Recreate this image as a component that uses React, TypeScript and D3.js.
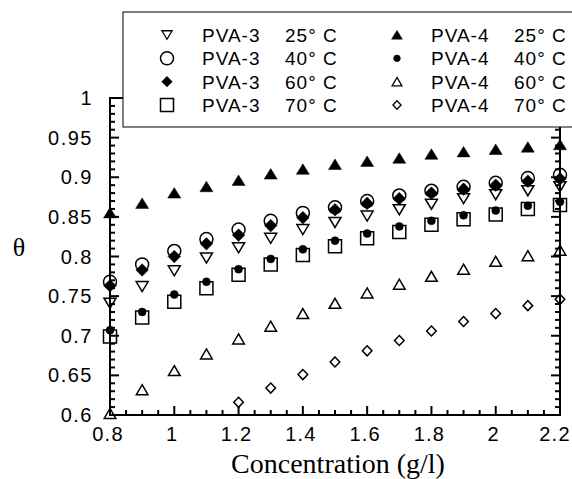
import React, { useEffect, useRef } from 'react';
import * as d3 from 'd3';

const conc = [0.8, 0.9, 1.0, 1.1, 1.2, 1.3, 1.4, 1.5, 1.6, 1.7, 1.8, 1.9, 2.0, 2.1, 2.2];

const pva3_25 = [0.741, 0.762, 0.782, 0.798, 0.811, 0.823, 0.834, 0.843, 0.851, 0.859, 0.866, 0.873, 0.878, 0.883, 0.888];
const pva3_40 = [0.768, 0.790, 0.807, 0.822, 0.834, 0.845, 0.855, 0.862, 0.870, 0.877, 0.883, 0.888, 0.893, 0.899, 0.903];
const pva3_60 = [0.763, 0.783, 0.800, 0.816, 0.827, 0.839, 0.849, 0.859, 0.867, 0.873, 0.880, 0.885, 0.890, 0.895, 0.898];
const pva3_70 = [0.699, 0.723, 0.743, 0.760, 0.777, 0.790, 0.802, 0.813, 0.823, 0.831, 0.840, 0.847, 0.853, 0.860, 0.865];
const pva4_25 = [0.855, 0.867, 0.880, 0.888, 0.896, 0.904, 0.910, 0.916, 0.920, 0.924, 0.929, 0.932, 0.935, 0.938, 0.941];
const pva4_40 = [0.707, 0.730, 0.752, 0.768, 0.784, 0.797, 0.809, 0.820, 0.829, 0.838, 0.845, 0.852, 0.858, 0.864, 0.869];
const pva4_60 = [0.602, 0.632, 0.656, 0.677, 0.696, 0.712, 0.728, 0.741, 0.754, 0.765, 0.775, 0.784, 0.794, 0.801, 0.808];
const pva4_70 = [null, null, null, null, 0.616, 0.634, 0.651, 0.667, 0.681, 0.694, 0.706, 0.718, 0.728, 0.738, 0.746];

const xTicks = [0.8, 1.0, 1.2, 1.4, 1.6, 1.8, 2.0, 2.2];
const yTicks = [0.6, 0.65, 0.7, 0.75, 0.8, 0.85, 0.9, 0.95, 1.0];

const seriesNames = ['PVA-3', 'PVA-3', 'PVA-3', 'PVA-3', 'PVA-4', 'PVA-4', 'PVA-4', 'PVA-4'];
const seriesTemps = ['25°', '40°', '60°', '70°', '25°', '40°', '60°', '70°'];
const seriesMarkers = ['triDown', 'circle', 'diamondFill', 'square', 'triUpFill', 'dot', 'triUp', 'diamond'];
const seriesValues = [pva3_25, pva3_40, pva3_60, pva3_70, pva4_25, pva4_40, pva4_60, pva4_70];

// marker path + fill style
function marker(kind: string): { d: string; filled: boolean } {
  switch (kind) {
    case 'triDown':
      return { d: 'M-6,-5L6,-5L0,5Z', filled: false };
    case 'triUp':
      return { d: 'M0,-5L5.8,5L-5.8,5Z', filled: false };
    case 'triUpFill':
      return { d: 'M0,-5.5L6.5,5L-6.5,5Z', filled: true };
    case 'circle':
      return { d: d3.arc()({ innerRadius: 0, outerRadius: 6.5, startAngle: 0, endAngle: 2 * Math.PI }) as string, filled: false };
    case 'dot':
      return { d: d3.arc()({ innerRadius: 0, outerRadius: 4, startAngle: 0, endAngle: 2 * Math.PI }) as string, filled: true };
    case 'square':
      return { d: 'M-6.5,-6.5H6.5V6.5H-6.5Z', filled: false };
    case 'diamondFill':
      return { d: 'M0,-6.3L6.3,0L0,6.3L-6.3,0Z', filled: true };
    case 'diamond':
    default:
      return { d: 'M0,-5L4.8,0L0,5L-4.8,0Z', filled: false };
  }
}

export default function App() {
  const svgRef = useRef<SVGSVGElement>(null);

  useEffect(() => {
    const svg = d3.select(svgRef.current);
    svg.selectAll('*').remove();

    const margin = { left: 110, right: 560, top: 98, bottom: 415 };
    const x = d3.scaleLinear().domain([0.8, 2.2]).range([margin.left, margin.right]);
    const y = d3.scaleLinear().domain([0.6, 1.0]).range([margin.bottom, margin.top]);

    const g = svg.append('g');

    // frame
    g.append('rect')
      .attr('x', margin.left).attr('y', margin.top)
      .attr('width', margin.right - margin.left).attr('height', margin.bottom - margin.top)
      .attr('fill', 'none').attr('stroke', '#000').attr('stroke-width', 2);

    // minor/major ticks, pointing inward
    const xMinor = d3.range(0.8, 2.2001, 0.05);
    xMinor.forEach(v => {
      const major = xTicks.some(t => Math.abs(t - v) < 1e-6);
      const len = major ? 9 : 5;
      g.append('line').attr('x1', x(v)).attr('x2', x(v))
        .attr('y1', margin.bottom).attr('y2', margin.bottom - len)
        .attr('stroke', '#000').attr('stroke-width', 2);
      g.append('line').attr('x1', x(v)).attr('x2', x(v))
        .attr('y1', margin.top).attr('y2', margin.top + len)
        .attr('stroke', '#000').attr('stroke-width', 2);
    });

    const yMinor = d3.range(0.6, 1.0001, 0.01);
    yMinor.forEach(v => {
      const major = yTicks.some(t => Math.abs(t - v) < 1e-6);
      const len = major ? 9 : 5;
      g.append('line').attr('y1', y(v)).attr('y2', y(v))
        .attr('x1', margin.left).attr('x2', margin.left + len)
        .attr('stroke', '#000').attr('stroke-width', 2);
      g.append('line').attr('y1', y(v)).attr('y2', y(v))
        .attr('x1', margin.right).attr('x2', margin.right - len)
        .attr('stroke', '#000').attr('stroke-width', 2);
    });

    const fmt = d3.format('');
    g.selectAll('.xl').data(xTicks).enter().append('text')
      .attr('x', d => Math.min(x(d) - 2, 555)).attr('y', 441)
      .attr('text-anchor', 'middle')
      .attr('font-family', 'Liberation Sans, Arial, sans-serif')
      .attr('font-size', 20).attr('letter-spacing', 1.2)
      .text(d => fmt(d));

    g.selectAll('.yl').data(yTicks).enter().append('text')
      .attr('x', 93).attr('y', d => y(d) + 7)
      .attr('text-anchor', 'end')
      .attr('font-family', 'Liberation Sans, Arial, sans-serif')
      .attr('font-size', 20).attr('letter-spacing', 1.5)
      .text(d => fmt(d));

    // axis titles
    g.append('text').attr('x', 338).attr('y', 473)
      .attr('text-anchor', 'middle')
      .attr('font-family', 'Liberation Serif, Times New Roman, serif')
      .attr('font-size', 28)
      .text('Concentration (g/l)');
    g.append('text').attr('x', 19).attr('y', 256)
      .attr('text-anchor', 'middle')
      .attr('font-family', 'Liberation Serif, Times New Roman, serif')
      .attr('font-size', 26)
      .text('θ');

    // data points
    seriesValues.forEach((vals, i) => {
      const m = marker(seriesMarkers[i]);
      const pts = conc.map((c, j) => ({ c, v: vals[j] })).filter(p => p.v !== null);
      g.selectAll(null).data(pts).enter().append('path')
        .attr('transform', p => `translate(${x(p.c)},${y(p.v as number)})`)
        .attr('d', m.d)
        .attr('fill', m.filled ? '#000' : 'none')
        .attr('stroke', '#000')
        .attr('stroke-width', m.filled ? 0.5 : 1.5);
    });

    // legend
    const lg = svg.append('g');
    lg.append('rect').attr('x', 123).attr('y', 12).attr('width', 470).attr('height', 115)
      .attr('fill', '#fff').attr('stroke', '#000').attr('stroke-width', 1);
    const rowY = d3.scaleLinear().domain([0, 3]).range([35, 105]);
    const font = 'Liberation Sans, Arial, sans-serif';
    seriesNames.forEach((name, i) => {
      const col = Math.floor(i / 4);
      const row = i % 4;
      const cy = rowY(row);
      const symX = col === 0 ? 167 : 397;
      const txtX = col === 0 ? 202 : 431;
      const tempX = txtX + 83;
      const cX = tempX + 38;
      const m = marker(seriesMarkers[i]);
      const sc = seriesMarkers[i] === 'circle' || seriesMarkers[i] === 'square' ? 1 : 0.85;
      lg.append('path').attr('transform', `translate(${symX},${cy}) scale(${sc})`)
        .attr('d', m.d)
        .attr('fill', m.filled ? '#000' : 'none')
        .attr('stroke', '#000')
        .attr('stroke-width', m.filled ? 0.5 : 1.5);
      lg.append('text').attr('x', txtX).attr('y', cy + 7)
        .attr('font-family', font).attr('font-size', 19).attr('letter-spacing', 1)
        .text(name);
      lg.append('text').attr('x', tempX).attr('y', cy + 7)
        .attr('font-family', font).attr('font-size', 19).attr('letter-spacing', 1)
        .text(seriesTemps[i]);
      lg.append('text').attr('x', cX).attr('y', cy + 7)
        .attr('font-family', font).attr('font-size', 19)
        .text('C');
    });
  }, []);

  return (
    <div style={{ position: 'absolute', left: 0, top: 0 }}>
      <svg ref={svgRef} width={572} height={479} style={{ display: 'block', background: '#fff' }} />
    </div>
  );
}
